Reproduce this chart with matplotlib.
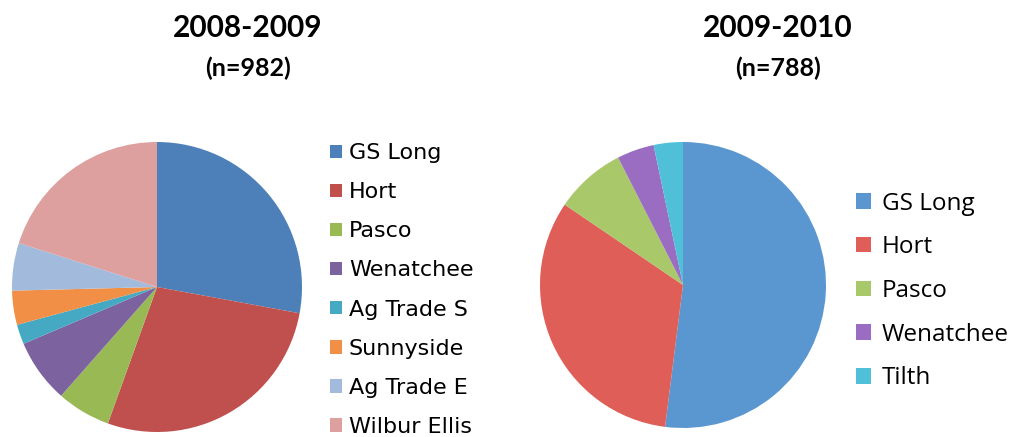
import matplotlib
matplotlib.use("Agg")
import matplotlib.pyplot as plt

# Data
labels_0809 = ["GS Long", "Hort", "Pasco", "Wenatchee", "Ag Trade S", "Sunnyside", "Ag Trade E", "Wilbur Ellis"]
values_0809 = [27.9, 27.6, 6.0, 7.1, 2.2, 3.8, 5.3, 20.1]
colors_0809 = ["#4d80b8", "#c0504d", "#98b954", "#7d62a0", "#45a9c4", "#f08f45", "#a2bbdd", "#dda09f"]

labels_0910 = ["GS Long", "Hort", "Pasco", "Wenatchee", "Tilth"]
values_0910 = [52.0, 32.5, 8.0, 4.2, 3.3]
colors_0910 = ["#5a97d1", "#df5f58", "#a8c86a", "#9a6dc2", "#4fc0d8"]

title_0809 = "2008-2009"
sub_0809 = "(n=982)"
title_0910 = "2009-2010"
sub_0910 = "(n=788)"

W, H = 1015, 437
fig = plt.figure(figsize=(W / 100, H / 100), dpi=100)
fig.patch.set_facecolor("white")

# Left pie
axL = fig.add_axes([12 / W, 5 / H, 290 / W, 290 / H])
wL, _ = axL.pie(values_0809, colors=colors_0809, startangle=90, counterclock=False,
                wedgeprops=dict(linewidth=0))
axL.set_xlim(-1, 1)
axL.set_ylim(-1, 1)
axL.set_aspect("equal")

# Right pie
axR = fig.add_axes([540 / W, 9 / H, 286 / W, 286 / H])
wR, _ = axR.pie(values_0910, colors=colors_0910, startangle=90, counterclock=False,
                wedgeprops=dict(linewidth=0))
axR.set_xlim(-1, 1)
axR.set_ylim(-1, 1)
axR.set_aspect("equal")

# Titles
fig.text(248 / W, 1 - 28 / H, title_0809, ha="center", va="center", fontsize=21.5,
         fontweight="bold", family="Lato")
fig.text(248 / W, 1 - 68 / H, sub_0809, ha="center", va="center", fontsize=18,
         fontweight="bold", family="Lato")
fig.text(778 / W, 1 - 28 / H, title_0910, ha="center", va="center", fontsize=21.5,
         fontweight="bold", family="Lato")
fig.text(778 / W, 1 - 68 / H, sub_0910, ha="center", va="center", fontsize=18,
         fontweight="bold", family="Lato")

# Legends
legL = fig.legend(wL, labels_0809, loc="center left", bbox_to_anchor=(330 / W, 1 - 290 / H),
                  frameon=False, prop={"family": "DejaVu Sans", "size": 16},
                  handlelength=0.55, handleheight=0.55, handletextpad=0.3,
                  labelspacing=0.86, borderpad=0, borderaxespad=0)
legR = fig.legend(wR, labels_0910, loc="center left", bbox_to_anchor=(856 / W, 1 - 291 / H),
                  frameon=False, prop={"family": "Open Sans", "size": 17.5},
                  handlelength=0.6, handleheight=0.6, handletextpad=0.45,
                  labelspacing=0.81, borderpad=0, borderaxespad=0)

fig.savefig("out.png", dpi=100, facecolor="white")
